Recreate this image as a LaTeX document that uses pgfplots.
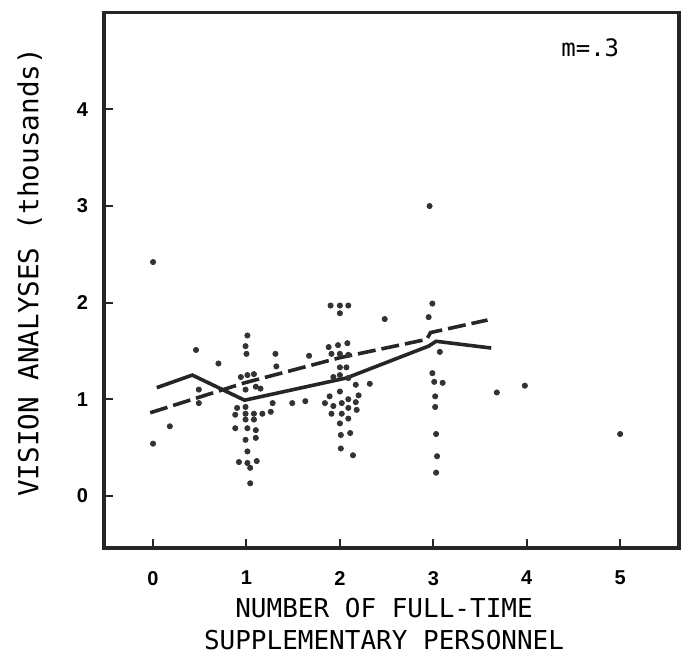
\documentclass[border=0pt]{standalone}
\usepackage{fontspec}
\setmainfont{Liberation Sans}
\newfontfamily\plotfont{DejaVu Sans Mono}
\usepackage{pgfplots}
\pgfplotsset{compat=1.18}

\begin{document}
\begin{tikzpicture}
\useasboundingbox (-52pt,-56.5pt) rectangle (289.5pt,274pt);
\begin{axis}[
    scale only axis,
    width=287.5pt, height=267.6pt,
    xmin=-0.525, xmax=5.63,
    ymin=-0.54, ymax=5.0,
    axis line style={line width=1.6pt, black!85},
    xtick={0,...,5}, ytick={0,...,4},
    tick align=inside, xtick pos=bottom, ytick pos=left,
    major tick length=4.5pt,
    tick style={line width=1pt, black!85},
    /pgf/number format/assume math mode=true,
    ticklabel style={font=\fontsize{10}{12}\selectfont\bfseries},
    yticklabel style={xshift=-4.5pt},
    xticklabel style={yshift=-8pt},
    xlabel={NUMBER OF FULL-TIME\\SUPPLEMENTARY PERSONNEL},
    xlabel style={at={(axis description cs:0.487,-0.142)}, anchor=center,
        align=center, font=\plotfont\fontsize{13}{16}\selectfont},
    ylabel={VISION ANALYSES (thousands)},
    ylabel style={at={(axis description cs:-0.129,0.515)}, anchor=center,
        font=\plotfont\fontsize{13.8}{16}\selectfont},
    clip=false,
]
% observations
\addplot[only marks, mark=*, mark size=1.3pt, black!80] coordinates {
    (0.00,2.42) (0.00,0.54) (0.18,0.72) (0.46,1.51) (0.49,1.10) (0.49,0.96) (0.70,1.37)
    (1.01,1.66) (0.99,1.55) (1.00,1.47) (1.31,1.47) (1.32,1.34)
    (0.94,1.23) (1.01,1.25) (1.08,1.26) (0.99,1.10) (1.10,1.13) (1.15,1.11)
    (0.90,0.91) (0.88,0.84) (0.99,0.92) (0.99,0.85) (1.08,0.85) (0.99,0.79) (1.08,0.79)
    (1.17,0.85) (1.28,0.96) (1.26,0.87) (1.49,0.96) (1.63,0.98) (1.67,1.45)
    (0.88,0.70) (1.01,0.70) (1.10,0.68) (0.99,0.58) (1.10,0.60) (1.01,0.46)
    (0.92,0.35) (1.01,0.34) (1.04,0.29) (1.11,0.36) (1.04,0.13)
    (1.90,1.97) (2.00,1.97) (2.09,1.97) (2.00,1.89) (2.48,1.83)
    (1.88,1.54) (1.98,1.56) (2.08,1.58) (1.91,1.47) (2.00,1.47) (2.09,1.46)
    (2.00,1.33) (2.07,1.33) (1.93,1.23) (2.00,1.25) (2.09,1.22)
    (2.17,1.15) (2.32,1.16) (2.00,1.08) (2.20,1.04)
    (1.84,0.96) (1.89,1.03) (1.93,0.93) (2.02,0.96) (2.09,1.00) (2.17,0.97)
    (1.91,0.85) (2.02,0.85) (2.09,0.91) (2.18,0.89)
    (2.00,0.75) (2.09,0.80) (2.01,0.63) (2.11,0.65) (2.01,0.49) (2.14,0.42)
    (2.96,3.00) (2.99,1.99) (2.95,1.85) (3.07,1.49) (2.99,1.27)
    (3.01,1.18) (3.10,1.17) (3.02,1.03) (3.02,0.92) (3.03,0.64) (3.04,0.41) (3.03,0.24)
    (3.68,1.07) (3.98,1.14) (5.00,0.64)
};
% smoothed curve
\addplot[line width=1.8pt, black!85] coordinates {
    (0.04,1.12) (0.42,1.25) (0.98,0.99) (2.07,1.22) (2.95,1.55) (3.03,1.60) (3.62,1.53)
};
% fitted line
\addplot[line width=1.8pt, black!85, dash pattern=on 9pt off 3pt] coordinates {
    (-0.03,0.86) (0.98,1.17) (2.00,1.43) (2.93,1.62) (2.97,1.69) (3.58,1.82)
};
\node[font=\plotfont\fontsize{12}{14}\selectfont] at (axis cs:4.68,4.64) {m=.3};
\end{axis}
\end{tikzpicture}
\end{document}
